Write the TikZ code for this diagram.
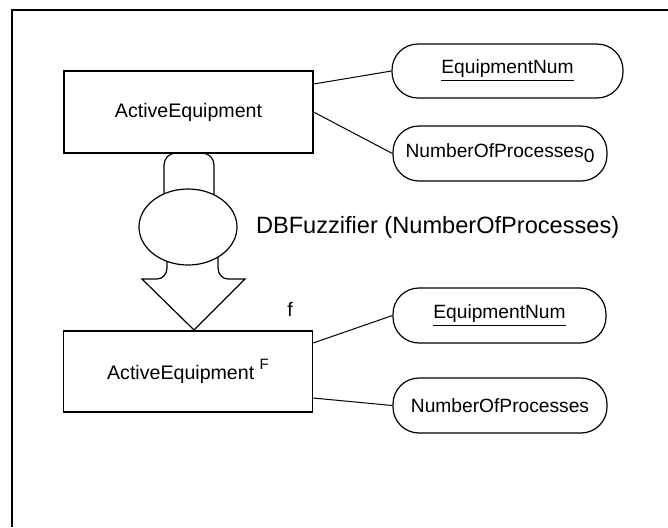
\documentclass[tikz,border=0pt]{standalone}
\usepackage{fontspec}
\setmainfont{Liberation Sans}
\usepackage{tikz}
\usetikzlibrary{shapes}
\usetikzlibrary{positioning}
\tikzstyle{entity} = [rectangle, minimum width=124.5pt, minimum height=41pt, text centered, draw=black,
line width=0.6pt, font=\fontsize{9.8}{12}\selectfont]
\tikzstyle{attrib} = [rectangle, rounded corners=13pt, minimum height=27.5pt, text centered, draw=black,
line width=0.6pt, inner sep=0pt, font=\fontsize{9.6}{11}\selectfont]
\tikzstyle{link} = [line width=0.5pt]
\tikzstyle{fuzzarrow} = [line width=0.6pt]

\begin{document}
\begin{tikzpicture}[x=0.5pt, y=-0.5pt]
  \useasboundingbox (0,0) rectangle (668,527);
  \draw[line width=1pt] (12,527) -- (12,10) -- (668,10);

  \node(entity1)[entity] at (188.5,112) {ActiveEquipment};
  \node(entity2)[entity, minimum height=40.5pt] at (188,371.5)
    {ActiveEquipment \raisebox{0.9ex}{\fontsize{7.5}{9}\selectfont F}};
  \node(flabel)[font=\fontsize{9.8}{12}\selectfont] at (290,309) {f};

  \node(key1)[attrib, minimum width=115.5pt, minimum height=27pt] at (507.5,71) {\underline{EquipmentNum}};
  \node(procs1)[attrib, minimum width=107pt] at (500,153.5) {NumberOfProcesses\raisebox{-0.5ex}{0}};
  \node(key2)[attrib, minimum width=106.5pt] at (499.5,315.5) {\underline{EquipmentNum}};
  \node(procs2)[attrib, minimum width=107pt] at (500,405.5) {NumberOfProcesses};

  \draw[link] ([yshift=14pt]entity1.east) -- (key1.west);
  \draw[link] (entity1.east) -- (procs1.west);
  \draw[link] ([yshift=14.25pt]entity2.east) -- (key2.west);
  \draw[link] ([yshift=-13.25pt]entity2.east) -- (procs2.west);

  % fuzzifier arrow
  \draw[fuzzarrow, rounded corners=6pt] (164,210) -- (164,153) -- (214,153) -- (214,210);
  \draw[fuzzarrow] (167,245) -- (167,268) to[out=-90,in=0] (157,279) -- (142,279) -- (194,330)
    -- (245,279) -- (228,279) to[out=180,in=-90] (218,268) -- (218,245);
  \node(fuzz)[ellipse, draw, fill=white, fuzzarrow, minimum width=49pt, minimum height=38pt, inner sep=0pt]
    at (188,227) {};
  \node(fuzzlabel)[right=9pt of fuzz, inner sep=0pt, font=\fontsize{11.8}{14}\selectfont]
    {DBFuzzifier (NumberOfProcesses)};

\end{tikzpicture}
\end{document}
